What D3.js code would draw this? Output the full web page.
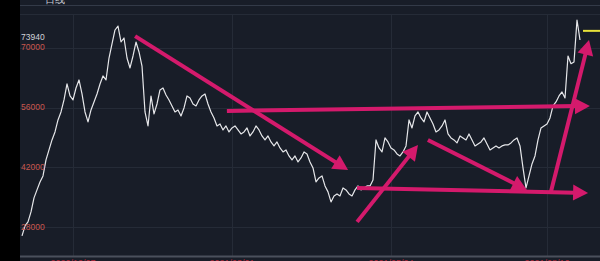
<!DOCTYPE html>
<head>
  <meta charset="utf-8">
  <script src="https://d3js.org/d3.v7.min.js"></script>
  <style type="text/css">
    * { font-family: "Liberation Sans", Arial, sans-serif }
    body { margin: 0; background: #000; }
  </style>
</head>
<body>
<div id="my_dataviz"></div>
<script>

// daily closes (one value per trading day sample)
var closes = [
  26000, 28330, 29270, 31600, 34880, 36750, 38610, 40020, 43760, 46090,
  48430, 50300, 53100, 54970, 57780, 61520, 58710, 57780, 60580, 62450,
  59180, 54970, 52640, 55440, 57310, 59180, 61520, 63390, 62450, 67590,
  70870, 74140, 75070, 71330, 72270, 67590, 65260, 68060, 71330, 69000,
  65720, 54970, 51700, 58710, 54510, 56840, 60120, 60580, 58950, 57780,
  56380, 54970, 55440, 54040, 55910, 58710, 58250, 56840, 56380, 57780,
  58710, 59180, 56840, 54970, 53570, 51700, 52170, 50770, 51700, 50300,
  51230, 51700, 50770, 49830, 50300, 51230, 49370, 50300, 51700, 50770,
  49370, 48430, 49370, 47960, 47030, 47960, 46560, 45630, 46090, 44690,
  43760, 44690, 43290, 44220, 45630, 45160, 43290, 41890, 38610, 39550,
  40020, 37680, 36280, 33940, 35340, 35810, 35340, 37210, 36750, 35810,
  35340, 36750, 37680, 36750, 37210, 37680, 37680, 39080, 48430, 46560,
  45630, 48900, 47960, 46560, 46090, 45160, 44690, 45630, 47030, 53100,
  51230, 54040, 54970, 53570, 52640, 54970, 53570, 52170, 50300, 50770,
  51700, 53100, 49830, 48900, 48430, 47730, 49370, 48900, 48430, 49830,
  48430, 47030, 47500, 47960, 48900, 47500, 46090, 46560, 47030, 46560,
  47030, 47260, 47260, 47730, 48430, 48900, 47030, 41890, 37210, 40020,
  42820, 44690, 48430, 51230, 51700, 52170, 53570, 56380, 57310, 58710,
  59650, 58250, 68060, 66250, 66660, 76470, 71800
];

var lastPrice = 73940;
var yTicks = [70000, 56000, 42000, 28000];
var xTickIdx = [17, 70, 123, 175];
var xTickLabels = ["2020/12/07", "2021/03/01", "2021/05/24", "2021/08/16"];

// trend arrows: [start index, start value, end index, end value]
var arrows = [
  [37.7, 72700, 108.7, 41400],
  [68.3, 55200, 189.3, 56380],
  [111.7, 37210, 188.7, 36040],
  [111.7, 29270, 132.0, 47260],
  [135.3, 48430, 168.3, 36750],
  [176.3, 36280, 189.0, 71800]
];

var W = 600, H = 261;
var svg = d3.select("#my_dataviz").append("svg")
  .attr("width", W).attr("height", H);

// backgrounds
svg.append("rect").attr("width", W).attr("height", H).attr("fill", "#000");
svg.append("rect").attr("x", 20).attr("width", W - 20).attr("height", H).attr("fill", "#181d28");

var x = d3.scaleLinear().domain([0, closes.length - 1]).range([22, 580]);
var y = d3.scaleLinear().domain([28000, 70000]).range([227.3, 47.7]);

// header strip
svg.append("text").attr("x", 45).attr("y", 3).attr("fill", "#c8cbd2")
  .style("font-size", "10px").text("日线");
svg.append("line").attr("x1", 20).attr("x2", W).attr("y1", 5.5).attr("y2", 5.5)
  .attr("stroke", "#333a48");
svg.append("line").attr("x1", 20).attr("x2", W).attr("y1", 14.5).attr("y2", 14.5)
  .attr("stroke", "#252b37");

// grid
svg.append("g").selectAll("line").data(yTicks).join("line")
  .attr("x1", 20).attr("x2", W)
  .attr("y1", d => Math.round(y(d)) + 0.5).attr("y2", d => Math.round(y(d)) + 0.5)
  .attr("stroke", "#252b37");
svg.append("g").selectAll("line").data(xTickIdx).join("line")
  .attr("x1", d => Math.round(x(d)) + 0.5).attr("x2", d => Math.round(x(d)) + 0.5)
  .attr("y1", 14).attr("y2", 256)
  .attr("stroke", "#252b37");

// bottom axis
svg.append("rect").attr("x", 20).attr("y", 255.5).attr("width", W - 20).attr("height", 2)
  .attr("fill", "#4a505c");
svg.append("g").selectAll("text").data(xTickIdx).join("text")
  .attr("x", d => x(d)).attr("y", 265.5)
  .attr("text-anchor", "middle").attr("fill", "#b3263a")
  .style("font-size", "9px")
  .text((d, i) => xTickLabels[i]);

// price line
var line = d3.line().x((d, i) => x(i)).y(d => y(d));
svg.append("path").datum(closes)
  .attr("d", line)
  .attr("fill", "none")
  .attr("stroke", "#e6e7ea")
  .attr("stroke-width", 1.2)
  .attr("stroke-linejoin", "round");

// current price marker
svg.append("line")
  .attr("x1", x(closes.length - 1) + 3).attr("x2", W)
  .attr("y1", y(lastPrice)).attr("y2", y(lastPrice))
  .attr("stroke", "#e8e23a").attr("stroke-width", 2);

// y labels
svg.append("g").selectAll("text").data(yTicks).join("text")
  .attr("x", 21).attr("y", d => y(d))
  .attr("dominant-baseline", "middle")
  .attr("fill", "#c9574e")
  .style("font-size", "8.5px")
  .text(d => d);
svg.append("text")
  .attr("x", 21).attr("y", y(lastPrice) + 7)
  .attr("dominant-baseline", "middle")
  .attr("fill", "#d0d2d8")
  .style("font-size", "8.5px")
  .text(lastPrice);

// arrows
var pink = "#d41a6c", headLen = 15, headHalf = 8;
var ag = svg.append("g");
arrows.forEach(function(a) {
  var x0 = x(a[0]), y0 = y(a[1]), x1 = x(a[2]), y1 = y(a[3]);
  var dx = x1 - x0, dy = y1 - y0, len = Math.sqrt(dx * dx + dy * dy);
  var ux = dx / len, uy = dy / len;
  var bx = x1 - ux * headLen, by = y1 - uy * headLen;
  ag.append("line")
    .attr("x1", x0).attr("y1", y0).attr("x2", bx + ux * 2).attr("y2", by + uy * 2)
    .attr("stroke", pink).attr("stroke-width", 4);
  ag.append("polygon")
    .attr("points", [
      [x1, y1],
      [bx - uy * headHalf, by + ux * headHalf],
      [bx + uy * headHalf, by - ux * headHalf]
    ].map(p => p.join(",")).join(" "))
    .attr("fill", pink);
});

</script>
</body>
</html>
